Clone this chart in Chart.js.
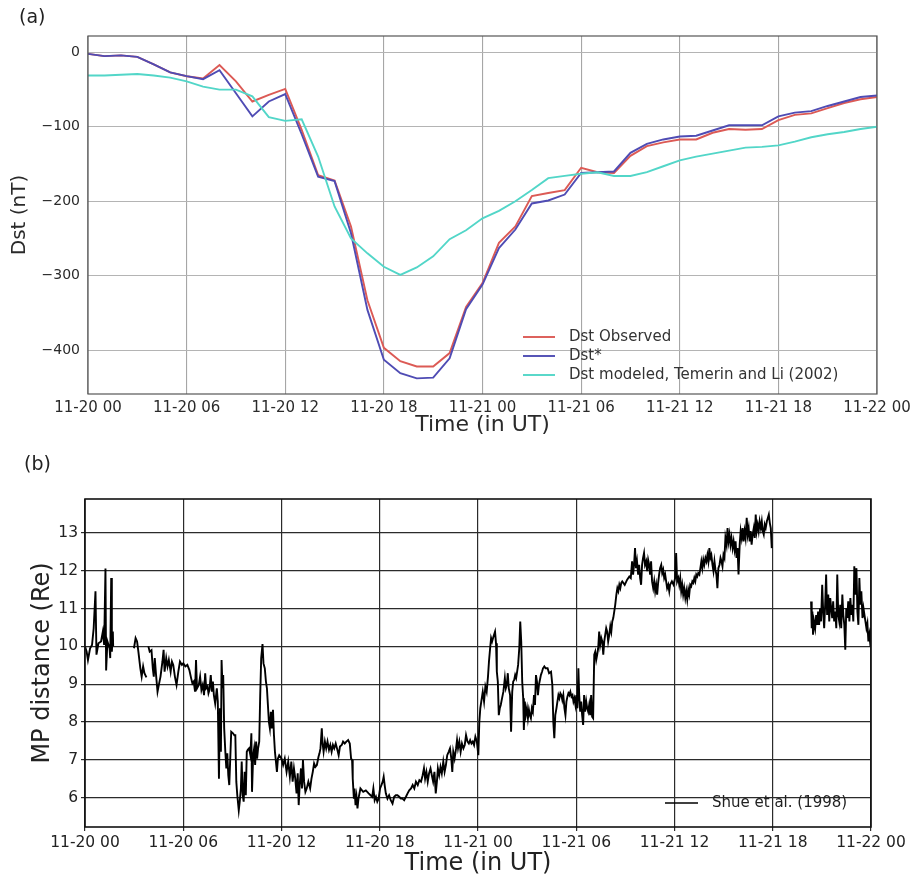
<!DOCTYPE html>
<html><head><meta charset="utf-8">
<script src="https://cdn.jsdelivr.net/npm/chart.js@4/dist/chart.umd.min.js"></script>
<style>
html,body{margin:0;padding:0;background:#fff;width:918px;height:879px;overflow:hidden}
#wa{position:absolute;left:0;top:0;width:918px;height:440px}
#wb{position:absolute;left:0;top:440px;width:918px;height:439px}
.tag{position:absolute;font-family:"DejaVu Sans",sans-serif;font-size:19px;color:#222}
</style></head><body>
<div id="wa"><canvas id="ca" width="918" height="440"></canvas></div>
<div id="wb"><canvas id="cb" width="918" height="439"></canvas></div>
<div class="tag" style="left:19px;top:5px">(a)</div>
<div class="tag" style="left:24px;top:452px">(b)</div>
<script>
// ---- shared axis ticks ----
const tickHours = [0, 6, 12, 18, 24, 30, 36, 42, 48];
const tickLabels = ['11-20 00','11-20 06','11-20 12','11-20 18','11-21 00','11-21 06','11-21 12','11-21 18','11-22 00'];
const dstTicks = [-400, -300, -200, -100, 0];
const mpTicks = [6, 7, 8, 9, 10, 11, 12, 13];

// ---- panel (a): hourly Dst ----
const dstHours = [0,1,2,3,4,5,6,7,8,9,10,11,12,13,14,15,16,17,18,19,20,21,22,23,24,25,26,27,28,29,30,31,32,33,34,35,36,37,38,39,40,41,42,43,44,45,46,47,48];
const dstObserved = [-2,-5,-4,-6,-16,-27,-32,-35,-17,-39,-66,-57,-49,-104,-165,-172,-234,-333,-397,-415,-422,-422,-404,-342,-310,-256,-234,-193,-189,-185,-155,-161,-162,-139,-126,-121,-117,-117,-108,-103,-104,-103,-91,-84,-82,-75,-68,-63,-60];
const dstStar = [-2,-5,-4,-6,-16,-27,-32,-36,-24,-55,-86,-66,-56,-110,-167,-173,-243,-346,-413,-431,-438,-437,-411,-345,-312,-263,-238,-203,-199,-191,-162,-161,-160,-135,-123,-117,-113,-112,-105,-98,-98,-98,-86,-81,-79,-72,-66,-60,-58];
const dstTemerinLi = [-31,-31,-30,-29,-31,-34,-39,-46,-50,-50,-59,-87,-92,-90,-140,-207,-250,-270,-288,-299,-289,-274,-251,-239,-223,-213,-200,-185,-169,-166,-163,-161,-166,-166,-161,-153,-145,-140,-136,-132,-128,-127,-125,-120,-114,-110,-107,-103,-100];

// ---- panel (b): magnetopause distance [hour, Re]; null = data gap ----
const mpReadings = [
[0,10.0],[0.10,9.86],[0.18,9.64],[0.31,9.95],[0.43,10.04],[0.53,10.48],[0.64,11.46],[0.70,9.78],[0.82,10.08],[0.98,10.13],[1.09,10.39],[1.17,10.04],[1.25,12.06],[1.29,9.36],[1.37,10.13],[1.50,9.95],[1.54,9.69],[1.60,11.81],[1.64,9.86],[1.70,10.39],[1.72,10.0],
[2.3,null],
[2.99,9.95],[3.09,10.22],[3.18,10.13],[3.26,9.86],[3.38,9.42],[3.46,9.2],[3.55,9.47],[3.63,9.29],[3.75,9.18],
[3.81,null],
[3.87,10.0],[3.95,9.86],[4.06,9.9],[4.14,9.42],[4.20,9.2],[4.26,9.69],[4.34,9.24],[4.43,8.8],[4.51,8.98],[4.61,9.2],[4.73,9.6],[4.80,9.91],[4.86,9.33],[4.96,9.69],[5.04,9.47],[5.12,9.64],[5.23,9.33],[5.31,9.6],[5.39,9.51],[5.49,9.2],[5.59,8.98],[5.70,9.33],[5.80,9.6],[5.92,9.51],
[6.00,9.55],[6.13,9.47],[6.25,9.51],[6.37,9.38],[6.48,9.16],[6.56,9.02],[6.64,9.07],[6.72,8.8],[6.78,9.64],[6.84,8.89],[6.95,8.98],[7.03,9.2],[7.11,8.85],[7.19,8.98],[7.27,8.71],[7.34,9.29],[7.40,8.89],[7.48,8.94],[7.54,8.76],[7.60,8.85],[7.68,9.24],[7.75,8.8],[7.81,9.07],[7.87,8.71],[7.95,8.49],
[8.05,8.89],[8.11,8.54],[8.18,6.5],[8.24,8.36],[8.30,7.21],[8.34,9.64],[8.40,8.89],[8.44,9.24],[8.50,7.83],[8.57,7.21],[8.63,6.77],[8.69,7.17],[8.75,6.59],[8.81,6.33],[8.87,7.03],[8.93,7.74],[9.04,7.7],[9.12,7.65],[9.18,7.65],[9.24,6.42],[9.30,6.06],[9.39,5.66],[9.45,5.89],[9.52,6.24],[9.57,6.95],[9.63,6.06],[9.69,5.89],[9.75,6.68],[9.82,6.06],[9.88,7.21],[9.94,7.26],
[10.02,7.3],[10.10,7.12],[10.16,7.7],[10.20,6.15],[10.27,7.12],[10.33,7.3],[10.39,6.86],[10.45,7.48],[10.51,7.03],[10.57,7.3],[10.64,7.48],[10.70,8.71],[10.76,9.69],[10.84,10.06],[10.90,9.55],[10.98,9.42],[11.05,9.07],[11.11,8.89],[11.17,8.45],[11.23,8.0],[11.29,7.83],[11.35,8.27],[11.41,7.83],[11.48,8.32],[11.54,7.65],[11.60,7.21],[11.66,6.95],[11.72,6.68],[11.78,7.03],[11.86,7.12],
[12.0,7.03],[12.1,6.86],[12.2,7.03],[12.31,6.68],[12.41,6.95],[12.51,6.55],[12.60,6.95],[12.68,6.42],[12.76,6.77],[12.84,6.5],[12.92,6.11],[12.99,6.64],[13.05,5.8],[13.11,6.33],[13.19,6.77],[13.25,6.24],[13.31,6.99],[13.38,6.42],[13.46,6.15],[13.54,6.24],[13.64,6.42],[13.75,6.24],[13.83,6.5],[13.91,6.68],[13.99,6.9],
[14.07,6.81],[14.16,6.86],[14.26,7.08],[14.32,7.17],[14.38,7.3],[14.46,7.83],[14.51,7.43],[14.57,7.21],[14.65,7.48],[14.73,7.3],[14.81,7.48],[14.90,7.26],[14.98,7.39],[15.06,7.21],[15.14,7.39],[15.22,7.3],[15.31,7.43],[15.39,7.3],[15.49,7.12],[15.57,7.35],[15.68,7.39],[15.76,7.48],[15.86,7.43],[15.96,7.48],
[16.07,7.52],[16.17,7.43],[16.25,7.03],[16.31,6.99],[16.35,6.5],[16.42,5.97],[16.46,6.24],[16.52,5.8],[16.58,6.02],[16.64,5.71],[16.70,5.97],[16.82,6.24],[16.99,6.15],[17.15,6.19],[17.32,6.11],[17.44,6.06],[17.54,6.02],[17.61,6.24],[17.69,5.93],[17.77,6.02],[17.85,5.89],[17.93,5.97],
[18.02,6.24],[18.10,6.33],[18.18,6.42],[18.24,6.55],[18.30,6.33],[18.37,6.11],[18.47,5.97],[18.57,6.06],[18.67,5.93],[18.78,5.84],[18.88,6.02],[18.98,6.06],[19.08,6.06],[19.19,6.02],[19.29,5.97],[19.39,5.97],[19.49,5.93],[19.60,6.02],[19.70,6.11],[19.80,6.19],[19.91,6.24],
[20.01,6.33],[20.11,6.24],[20.21,6.42],[20.32,6.33],[20.42,6.46],[20.52,6.42],[20.62,6.59],[20.70,6.77],[20.77,6.5],[20.85,6.68],[20.93,6.42],[21.01,6.64],[21.10,6.77],[21.18,6.59],[21.26,6.42],[21.34,6.68],[21.42,6.11],[21.49,6.42],[21.55,6.77],[21.63,6.59],[21.71,6.81],[21.79,6.64],[21.88,6.95],[21.96,6.68],
[22.04,6.86],[22.12,7.12],[22.21,7.21],[22.29,7.3],[22.37,7.03],[22.43,6.68],[22.49,7.21],[22.57,7.03],[22.66,7.3],[22.72,7.52],[22.78,7.3],[22.86,7.48],[22.94,7.21],[23.02,7.43],[23.11,7.3],[23.19,7.39],[23.27,7.65],[23.36,7.48],[23.44,7.43],[23.52,7.52],[23.60,7.43],[23.68,7.48],[23.76,7.39],[23.84,7.61],[23.93,7.48],
[24.02,7.12],[24.08,8.0],[24.14,8.36],[24.20,8.54],[24.29,8.8],[24.37,8.54],[24.45,8.94],[24.53,8.8],[24.61,9.2],[24.67,9.6],[24.74,9.95],[24.80,10.22],[24.86,10.13],[24.92,10.22],[24.98,10.31],[25.04,10.39],[25.10,10.08],[25.15,9.33],[25.21,9.07],[25.27,8.18],[25.33,8.36],[25.39,8.45],[25.47,8.63],[25.55,8.8],[25.64,9.16],[25.70,8.89],[25.76,8.98],[25.82,9.29],[25.88,8.89],[25.96,8.71],
[26.02,7.74],[26.09,8.8],[26.15,9.07],[26.21,9.11],[26.27,9.24],[26.33,9.16],[26.39,9.33],[26.45,9.51],[26.52,9.95],[26.58,10.66],[26.64,10.13],[26.70,9.07],[26.76,8.63],[26.80,7.79],[26.86,8.54],[26.92,8.18],[26.99,8.36],[27.05,8.1],[27.11,8.32],[27.17,8.18],[27.23,8.1],[27.29,8.36],[27.35,8.27],[27.42,8.71],[27.48,8.45],[27.54,9.24],[27.60,9.07],[27.66,8.71],[27.72,8.98],[27.78,9.11],[27.84,9.24],[27.91,9.33],[27.97,9.42],
[28.05,9.47],[28.13,9.42],[28.25,9.42],[28.34,9.29],[28.46,9.33],[28.54,8.98],[28.60,8.0],[28.66,7.57],[28.72,8.18],[28.79,8.36],[28.85,8.54],[28.91,8.71],[28.97,8.63],[29.03,8.76],[29.09,8.71],[29.15,8.58],[29.21,8.71],[29.28,8.36],[29.34,8.18],[29.40,8.54],[29.46,8.67],[29.52,8.76],[29.58,8.71],[29.64,8.8],[29.71,8.67],[29.77,8.71],[29.83,8.54],[29.89,8.63],[29.95,8.45],
[30.01,8.71],[30.07,8.36],[30.13,9.42],[30.18,8.71],[30.24,8.27],[30.30,8.54],[30.36,8.18],[30.42,7.92],[30.48,8.71],[30.54,8.27],[30.61,8.54],[30.67,8.36],[30.73,8.27],[30.79,8.45],[30.85,8.18],[30.91,8.71],[30.97,8.14],[31.03,8.1],[31.10,9.78],[31.16,9.86],[31.22,9.64],[31.28,9.78],[31.34,9.95],[31.40,10.39],[31.46,10.04],[31.53,10.22],[31.59,10.13],[31.65,9.78],[31.71,10.13],[31.77,10.31],[31.83,10.48],[31.89,10.39],[31.95,10.13],
[32.02,10.31],[32.08,10.53],[32.14,10.39],[32.20,10.66],[32.26,10.75],[32.32,10.92],[32.38,11.1],[32.45,11.37],[32.51,11.54],[32.57,11.46],[32.63,11.63],[32.69,11.54],[32.75,11.68],[32.81,11.72],[32.96,11.63],[33.10,11.76],[33.24,11.85],[33.33,11.81],[33.41,12.25],[33.47,11.9],[33.53,12.16],[33.59,12.6],[33.65,12.07],[33.71,12.25],[33.78,11.9],[33.84,12.16],[33.90,11.81],[33.96,11.63],
[34.02,12.16],[34.08,12.34],[34.14,12.47],[34.20,12.16],[34.27,12.25],[34.33,11.99],[34.39,12.29],[34.45,12.16],[34.51,11.9],[34.57,12.25],[34.63,11.72],[34.70,11.54],[34.76,11.72],[34.82,11.46],[34.88,11.63],[34.94,11.37],[35.00,11.68],[35.06,11.9],[35.12,12.07],[35.19,12.16],[35.25,11.94],[35.31,12.03],[35.37,11.81],[35.43,11.9],[35.49,11.72],[35.55,11.54],[35.62,11.63],[35.68,11.46],
[35.73,11.63],[35.84,11.72],[35.94,11.63],[36.04,11.81],[36.10,12.47],[36.16,11.72],[36.23,11.81],[36.29,11.63],[36.35,11.81],[36.41,11.46],[36.47,11.63],[36.53,11.37],[36.59,11.54],[36.66,11.28],[36.72,11.46],[36.78,11.24],[36.84,11.5],[36.90,11.37],[36.96,11.63],[37.02,11.59],[37.09,11.72],[37.15,11.68],[37.21,11.81],[37.27,11.72],[37.33,11.9],[37.39,11.85],[37.45,11.94],[37.52,11.9],[37.58,12.07],[37.64,12.25],[37.70,12.07],[37.76,12.29],[37.82,12.16],[37.89,12.34],[37.95,12.25],
[38.01,12.42],[38.07,12.25],[38.13,12.6],[38.19,12.34],[38.25,12.42],[38.32,12.16],[38.38,11.99],[38.44,12.25],[38.50,12.03],[38.56,11.9],[38.62,11.54],[38.68,12.07],[38.75,12.16],[38.81,12.34],[38.87,12.25],[38.93,12.12],[38.99,12.42],[39.05,12.34],[39.11,12.87],[39.18,12.69],[39.24,13.13],[39.30,12.78],[39.36,12.96],[39.42,12.69],[39.48,12.87],[39.55,12.6],[39.61,12.78],[39.67,12.56],[39.73,12.78],[39.79,12.34],[39.85,12.6],[39.91,11.9],[39.98,12.69],
[40.04,13.05],[40.10,12.87],[40.16,13.13],[40.22,12.78],[40.28,13.05],[40.34,12.87],[40.41,13.4],[40.47,12.96],[40.53,13.13],[40.59,12.78],[40.65,13.05],[40.71,12.69],[40.77,12.96],[40.84,13.13],[40.90,12.87],[40.96,13.49],[41.02,13.05],[41.08,13.22],[41.14,13.05],[41.20,13.31],[41.27,13.13],[41.33,13.31],[41.39,13.05],[41.45,12.96],[41.51,13.22],[41.57,13.13],[41.64,13.31],[41.70,13.4],[41.76,13.49],[41.82,13.27],[41.88,13.13],[41.94,12.6],
[43.0,null],
[44.34,11.19],[44.38,10.48],[44.42,10.92],[44.46,10.31],[44.52,10.66],[44.59,10.48],[44.65,10.83],[44.71,10.57],[44.77,10.92],[44.83,10.57],[44.89,11.01],[44.95,10.66],[45.02,11.63],[45.08,10.92],[45.14,10.48],[45.20,11.1],[45.26,11.9],[45.32,10.83],[45.39,11.37],[45.45,10.66],[45.51,11.28],[45.57,11.01],[45.63,10.75],[45.69,11.19],[45.75,10.66],[45.82,10.92],[45.88,10.48],[45.94,11.9],
[46.00,10.83],[46.06,10.66],[46.12,11.1],[46.18,10.48],[46.25,11.37],[46.31,10.83],[46.37,10.57],[46.43,9.91],[46.49,11.01],[46.55,10.75],[46.61,11.19],[46.68,10.66],[46.74,11.28],[46.80,10.83],[46.86,11.1],[46.92,10.66],[46.98,12.12],[47.04,11.37],[47.11,12.07],[47.17,10.92],[47.23,10.57],[47.29,11.81],[47.35,11.1],[47.41,11.46],[47.48,10.75],[47.54,11.01],[47.60,10.83],[47.66,10.66],[47.72,10.48],[47.78,10.61],[47.84,10.13],[47.90,10.31],[47.97,10.0],[48.0,10.48]
];

// ---- helpers / plugins ----
const FONT = '"DejaVu Sans", sans-serif';
const pts = (xs, ys) => xs.map((x, i) => ({x: x, y: ys[i]}));

const framePlugin = {
  id: 'frame',
  afterDatasetsDraw(chart, args, o) {
    const {ctx, chartArea: a} = chart;
    ctx.save();
    ctx.strokeStyle = o.color; ctx.lineWidth = o.width;
    ctx.strokeRect(a.left, a.top, a.right - a.left, a.bottom - a.top);
    ctx.restore();
  }
};
const inLegend = {
  id: 'inLegend',
  afterDraw(chart, args, o) {
    const {ctx, chartArea: a} = chart;
    ctx.save();
    ctx.font = o.font; ctx.textBaseline = 'middle'; ctx.fillStyle = o.textColor;
    chart.data.datasets.forEach((ds, i) => {
      const y = a.bottom - o.fromBottom + i * o.rowGap;
      const x0 = a.right - o.fromRight;
      ctx.strokeStyle = ds.borderColor; ctx.lineWidth = o.lineWidth || ds.borderWidth;
      ctx.beginPath(); ctx.moveTo(x0, y); ctx.lineTo(x0 + o.lineLen, y); ctx.stroke();
      ctx.fillText(ds.label, x0 + o.lineLen + o.gap, y);
    });
    ctx.restore();
  }
};

function xScale(opts) {
  return {
    type: 'linear', min: 0, max: 48,
    afterBuildTicks: s => { s.ticks = tickHours.map(v => ({value: v})); },
    afterFit: s => { s.height = opts.height; },
    ticks: {autoSkip: false, maxRotation: 0, padding: opts.tickPad, color: opts.tickColor,
      font: {family: FONT, size: opts.tickSize},
      callback: v => tickLabels[tickHours.indexOf(v)]},
    grid: {color: opts.gridColor, lineWidth: opts.gridWidth, drawTicks: opts.drawTicks, tickLength: 4, tickColor: opts.gridColor},
    border: {display: false},
    title: {display: true, text: 'Time (in UT)', color: opts.titleColor,
      font: {family: FONT, size: opts.titleSize}, padding: {top: 0, bottom: opts.titlePad}}
  };
}

// ---- chart (a) ----
new Chart(document.getElementById('ca'), {
  type: 'line',
  data: {datasets: [
    {label: 'Dst Observed', data: pts(dstHours, dstObserved), borderColor: '#dc5a55', borderWidth: 1.9, order: 3},
    {label: 'Dst*', data: pts(dstHours, dstStar), borderColor: '#4f4cb4', borderWidth: 1.9, order: 2},
    {label: 'Dst modeled, Temerin and Li (2002)', data: pts(dstHours, dstTemerinLi), borderColor: '#52d6c8', borderWidth: 1.9, order: 1}
  ]},
  options: {
    responsive: false, animation: false,
    layout: {padding: {left: 0, top: 36, right: 41, bottom: 0}},
    elements: {point: {radius: 0}, line: {tension: 0}},
    plugins: {legend: {display: false}, tooltip: {enabled: false},
      frame: {color: '#555', width: 1.2},
      inLegend: {font: '15px ' + FONT, textColor: '#333', fromBottom: 57, rowGap: 19, fromRight: 354, lineLen: 32, gap: 14}},
    scales: {
      x: xScale({height: 46, tickPad: 5, tickColor: '#2a2a2a', tickSize: 15, gridColor: '#a6a6a6', gridWidth: 1.1, drawTicks: false, titleColor: '#2a2a2a', titleSize: 22, titlePad: 2}),
      y: {
        type: 'linear', min: -459, max: 22,
        afterBuildTicks: s => { s.ticks = dstTicks.map(v => ({value: v})); },
        afterFit: s => { s.width = 88; },
        ticks: {padding: 8, color: '#2a2a2a', font: {family: FONT, size: 14},
          callback: v => v < 0 ? '\u2212' + Math.abs(v) : String(v)},
        grid: {color: '#b4b4b4', lineWidth: 1.1, drawTicks: false},
        border: {display: false},
        title: {display: true, text: 'Dst (nT)', color: '#2a2a2a', font: {family: FONT, size: 20}, padding: {top: 8, bottom: 0}}
      }
    }
  },
  plugins: [framePlugin, inLegend]
});

// ---- chart (b) ----
new Chart(document.getElementById('cb'), {
  type: 'line',
  data: {datasets: [
    {label: 'Shue et al. (1998)', data: mpReadings.map(p => ({x: p[0], y: p[1]})), borderColor: '#000', borderWidth: 1.9, spanGaps: false}
  ]},
  options: {
    responsive: false, animation: false,
    layout: {padding: {left: 0, top: 59, right: 47, bottom: 0}},
    elements: {point: {radius: 0}, line: {tension: 0}},
    plugins: {legend: {display: false}, tooltip: {enabled: false},
      frame: {color: '#111', width: 1.6},
      inLegend: {font: '15px ' + FONT, textColor: '#222', fromBottom: 24, rowGap: 0, fromRight: 206, lineLen: 33, gap: 14, lineWidth: 1.6}},
    scales: {
      x: xScale({height: 52, tickPad: 3, tickColor: '#222', tickSize: 15.5, gridColor: '#2b2b2b', gridWidth: 1.2, drawTicks: true, titleColor: '#222', titleSize: 24, titlePad: 1}),
      y: {
        type: 'linear', min: 5.22, max: 13.9,
        afterBuildTicks: s => { s.ticks = mpTicks.map(v => ({value: v})); },
        afterFit: s => { s.width = 85; },
        ticks: {padding: 3, color: '#222', font: {family: FONT, size: 15.5}},
        grid: {color: '#2b2b2b', lineWidth: 1.2, drawTicks: true, tickLength: 4, tickColor: '#2b2b2b'},
        border: {display: false},
        title: {display: true, text: 'MP distance (Re)', color: '#222', font: {family: FONT, size: 24}, padding: {top: 28, bottom: 0}}
      }
    }
  },
  plugins: [framePlugin, inLegend]
});
</script>
</body></html>
